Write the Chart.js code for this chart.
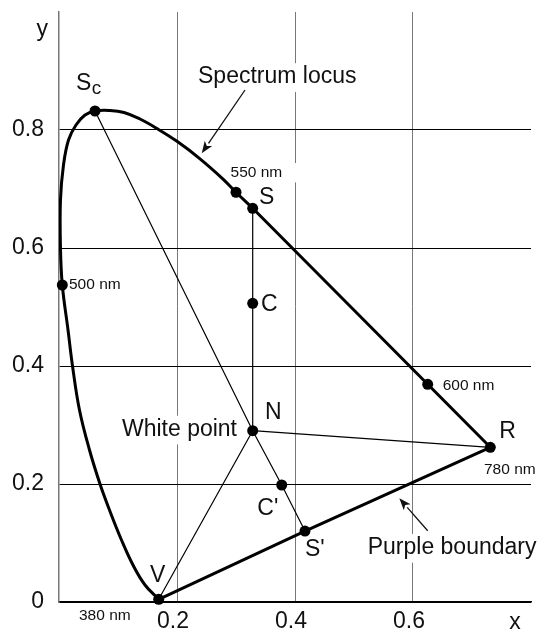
<!DOCTYPE html>
<html>
<head>
<meta charset="utf-8">
<title>CIE chromaticity diagram</title>
<script src="https://cdn.jsdelivr.net/npm/chart.js@4.4.1/dist/chart.umd.min.js"></script>
<style>
  html, body { margin: 0; padding: 0; background: #fff; }
  #wrap { width: 542px; height: 632px; }
</style>
</head>
<body>
<div id="wrap"><canvas id="cie" width="542" height="632"></canvas></div>
<script>
// spectrum locus from 380 nm (V) up the blue-green side, over the top to S
const locusX = [0.1690, 0.1458, 0.1254, 0.1059, 0.0856, 0.0695, 0.0517, 0.0347, 0.0229, 0.0153,
                0.0056, 0.0025, 0.0025, 0.0076, 0.0161, 0.0288, 0.0441, 0.0610, 0.0864, 0.1102,
                0.1373, 0.1661, 0.2000, 0.2390, 0.2780, 0.3000, 0.3283];
const locusY = [0.0046, 0.0288, 0.0627, 0.1051, 0.1559, 0.2000, 0.2576, 0.3254, 0.4000, 0.4610,
                0.5373, 0.6000, 0.6814, 0.7407, 0.7831, 0.8085, 0.8254, 0.8322, 0.8331, 0.8297,
                0.8186, 0.8025, 0.7808, 0.7512, 0.7169, 0.6945, 0.6673];

// marked points
const pointNames = ['V', '500 nm', 'Sc', '550 nm', 'S', 'C', 'N', '600 nm', 'R', "C'", "S'"];
const pointX = [0.1690, 0.0056, 0.0610, 0.3000, 0.3283, 0.3283, 0.3283, 0.6249, 0.7310, 0.3775, 0.4169];
const pointY = [0.0046, 0.5373, 0.8322, 0.6945, 0.6673, 0.5063, 0.2903, 0.3690, 0.2622, 0.1983, 0.1203];

// the red end of the locus is straight, S -> 600 nm -> R (780 nm)
const redEnd = ['S', '600 nm', 'R'];
const purpleBoundary = ['V', "S'", 'R'];
const constructionLines = [['Sc', 'N', "C'", "S'"], ['S', 'C', 'N'], ['N', 'R'], ['V', 'N']];

// axis ticks
const xTickValues = [0, 0.2, 0.4, 0.6, 0.8];
const xTickLabels = [null, '0.2', '0.4', '0.6', null];
const yTickValues = [0, 0.2, 0.4, 0.6, 0.8, 1.0];
const yTickLabels = ['0', '0.2', '0.4', '0.6', '0.8', null];

const FONT = '"Liberation Sans", Arial, Helvetica, sans-serif';
const INK = '#111';

// text placed in data units; box = white backing behind the text
const annotations = [
  { text: 'S', sub: 'c', x: 0.0288, y: 0.8792, size: 23 },
  { text: 'Spectrum locus', x: 0.2356, y: 0.8898, size: 23, box: true },
  { text: '550 nm', x: 0.2907, y: 0.7283, size: 15.5, box: true, padX: 14 },
  { text: 'S', x: 0.3390, y: 0.6847, size: 23 },
  { text: 'C', x: 0.3424, y: 0.5034, size: 23 },
  { text: '500 nm', x: 0.0169, y: 0.5373, size: 15.5 },
  { text: 'N', x: 0.3492, y: 0.3212, size: 23 },
  { text: 'White point', x: 0.3017, y: 0.2924, size: 23, align: 'right', box: true },
  { text: '600 nm', x: 0.6503, y: 0.3666, size: 15.5 },
  { text: 'R', x: 0.7463, y: 0.2881, size: 23 },
  { text: '780 nm', x: 0.7203, y: 0.2242, size: 15.5, box: true },
  { text: "C'", x: 0.3361, y: 0.1580, size: 23 },
  { text: "S'", x: 0.4169, y: 0.0886, size: 23 },
  { text: 'Purple boundary', x: 0.5232, y: 0.0920, size: 23, box: true },
  { text: 'V', x: 0.1673, y: 0.0444, size: 23, align: 'center' },
  { text: '380 nm', x: 0.0339, y: -0.0237, size: 15.5 },
  { text: 'x', x: 0.7729, y: -0.0466, size: 23, align: 'center', baseline: 'alphabetic' },
  { text: 'y', x: -0.0283, y: 0.9585, size: 23, align: 'center', baseline: 'alphabetic' }
];

const arrows = [
  { from: [0.3153, 0.8678], to: [0.2419, 0.7605] },
  { from: [0.6249, 0.1208], to: [0.5768, 0.1758] }
];

const zip = (xs, ys) => xs.map((x, i) => ({ x: x, y: ys[i] }));
const byName = name => {
  const i = pointNames.indexOf(name);
  return { x: pointX[i], y: pointY[i] };
};

const lineSet = (data, width, tension) => ({
  data: data,
  showLine: true,
  borderColor: '#000',
  borderWidth: width,
  pointRadius: 0,
  tension: tension || 0,
  borderJoinStyle: 'round',
  borderCapStyle: 'round',
  fill: false
});

const diagramText = {
  id: 'diagramText',
  beforeDatasetsDraw(chart) {
    const { ctx, scales } = chart;
    ctx.save();
    ctx.fillStyle = '#fff';
    annotations.filter(a => a.box).forEach(a => {
      ctx.font = a.size + 'px ' + FONT;
      const w = ctx.measureText(a.text).width;
      const px = scales.x.getPixelForValue(a.x);
      const py = scales.y.getPixelForValue(a.y);
      const left = a.align === 'right' ? px - w : a.align === 'center' ? px - w / 2 : px;
      const padX = a.padX || 3;
      ctx.fillRect(left - padX, py - a.size * 0.6, w + padX * 2, a.size * 1.25);
    });
    ctx.restore();
  },
  afterDatasetsDraw(chart) {
    const { ctx, scales } = chart;
    ctx.save();
    ctx.fillStyle = INK;
    annotations.forEach(a => {
      const px = scales.x.getPixelForValue(a.x);
      const py = scales.y.getPixelForValue(a.y);
      ctx.font = a.size + 'px ' + FONT;
      ctx.textAlign = a.align || 'left';
      ctx.textBaseline = a.baseline || 'middle';
      ctx.fillText(a.text, px, py);
      if (a.sub) {
        const w = ctx.measureText(a.text).width;
        ctx.font = (a.size * 0.82) + 'px ' + FONT;
        ctx.textAlign = 'left';
        ctx.textBaseline = 'alphabetic';
        ctx.fillText(a.sub, px + w + 0.5, py + a.size * 0.36 + 2);
      }
    });

    // pointer arrows
    ctx.strokeStyle = INK;
    ctx.lineWidth = 1.3;
    arrows.forEach(a => {
      const x0 = scales.x.getPixelForValue(a.from[0]);
      const y0 = scales.y.getPixelForValue(a.from[1]);
      const x1 = scales.x.getPixelForValue(a.to[0]);
      const y1 = scales.y.getPixelForValue(a.to[1]);
      const ang = Math.atan2(y1 - y0, x1 - x0);
      const len = 12, half = 4.5;
      const bx = x1 - len * Math.cos(ang), by = y1 - len * Math.sin(ang);
      ctx.beginPath();
      ctx.moveTo(x0, y0);
      ctx.lineTo(bx, by);
      ctx.stroke();
      ctx.beginPath();
      ctx.moveTo(x1, y1);
      ctx.lineTo(bx - half * Math.sin(ang), by + half * Math.cos(ang));
      ctx.lineTo(x1 - (len - 3) * Math.cos(ang), y1 - (len - 3) * Math.sin(ang));
      ctx.lineTo(bx + half * Math.sin(ang), by - half * Math.cos(ang));
      ctx.closePath();
      ctx.fill();
    });
    ctx.restore();
  }
};

new Chart(document.getElementById('cie'), {
  type: 'scatter',
  data: {
    datasets: [
      Object.assign(lineSet(zip(locusX, locusY), 3, 0.4), { label: 'Spectrum locus' }),
      Object.assign(lineSet(redEnd.map(byName), 3), { label: 'Spectrum locus, red end' }),
      Object.assign(lineSet(purpleBoundary.map(byName), 3), { label: 'Purple boundary' }),
      ...constructionLines.map(names => lineSet(names.map(byName), 1.2)),
      {
        label: 'Points',
        data: zip(pointX, pointY),
        showLine: false,
        pointRadius: 5.5,
        pointBackgroundColor: '#000',
        pointBorderWidth: 0,
        clip: false
      }
    ]
  },
  options: {
    responsive: false,
    animation: false,
    layout: { padding: { top: 12, right: 11, bottom: 0, left: 0 } },
    plugins: {
      legend: { display: false },
      tooltip: { enabled: false }
    },
    scales: {
      x: {
        type: 'linear',
        min: 0,
        max: 0.8,
        afterBuildTicks: axis => { axis.ticks = xTickValues.map(v => ({ value: v })); },
        afterFit: scale => {
          scale.height = 30;
          scale.paddingLeft = 0;
          scale.paddingRight = 0;
        },
        ticks: {
          callback: (v, i) => xTickLabels[i],
          font: { size: 23, family: FONT },
          color: INK,
          padding: 6,
          labelOffset: -4,
          maxRotation: 0
        },
        grid: { color: '#777', lineWidth: 1, drawTicks: false },
        border: { color: '#000', width: 1.5 }
      },
      y: {
        type: 'linear',
        min: 0,
        max: 1.0,
        afterBuildTicks: axis => { axis.ticks = yTickValues.map(v => ({ value: v })); },
        afterFit: scale => {
          scale.width = 59;
          scale.paddingTop = 0;
          scale.paddingBottom = 0;
        },
        ticks: {
          callback: (v, i) => yTickLabels[i],
          font: { size: 23, family: FONT },
          color: INK,
          padding: 15
        },
        grid: { color: '#000', lineWidth: 1, drawTicks: false },
        border: { color: '#777', width: 1.5 }
      }
    }
  },
  plugins: [diagramText]
});
</script>
</body>
</html>
